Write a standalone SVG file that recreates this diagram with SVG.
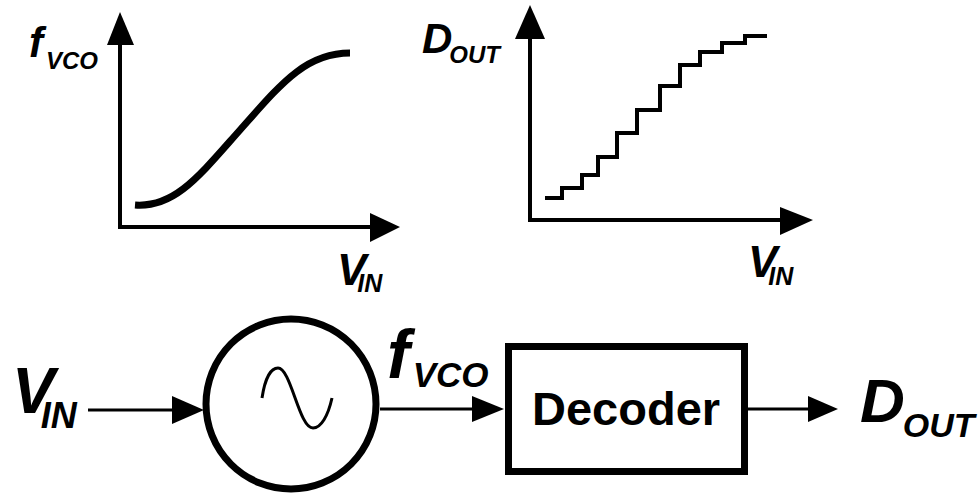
<svg xmlns="http://www.w3.org/2000/svg" width="979" height="495" viewBox="0 0 979 495">
<style>
.lbl{font-family:"Liberation Sans",Arial,sans-serif;font-weight:bold;font-style:italic;fill:#000}
.ax{stroke:#000;stroke-width:4;fill:none}
.ah{fill:#000}
.wire{stroke:#000;stroke-width:3;fill:none}
</style>
<rect width="979" height="495" fill="#fff"/>
<g id="graph-fvco">
  <line class="ax" x1="120" y1="227" x2="120" y2="40"/>
  <line class="ax" x1="118" y1="227" x2="375" y2="227"/>
  <polygon class="ah" points="120,12 107,45 134,45"/>
  <polygon class="ah" points="400,227 370,213 370,242"/>
  <path d="M135,205 C175,208 200,175 240,130 C280,85 305,53 350,53" stroke="#000" stroke-width="7" fill="none"/>
  <text class="lbl" x="29" y="57" font-size="42">f<tspan dx="3" dy="12" font-size="24">VCO</tspan></text>
  <text class="lbl" x="337" y="285" font-size="44">V<tspan dx="-9" dy="7" font-size="25">IN</tspan></text>
</g>
<g id="graph-dout">
  <line class="ax" x1="530" y1="220" x2="530" y2="35"/>
  <line class="ax" x1="528" y1="220" x2="785" y2="220"/>
  <polygon class="ah" points="530,5 515,39 545,39"/>
  <polygon class="ah" points="813,220 780,207 780,235"/>
  <path d="M545,198 H562 V188 H582 V175 H598 V157 H617 V133 H637 V110 H660 V86 H680 V65 H700 V52 H722 V43 H745 V36 H767" stroke="#000" stroke-width="4" fill="none"/>
  <text class="lbl" x="422" y="53" font-size="42">D<tspan dx="-3" dy="10" font-size="24">OUT</tspan></text>
  <text class="lbl" x="748" y="277" font-size="44">V<tspan dx="-9" dy="8" font-size="25">IN</tspan></text>
</g>
<g id="vco">
  <circle cx="291" cy="404" r="85" stroke="#000" stroke-width="7" fill="none"/>
  <path d="M262,398 C265,378 271,368 278,368 C291,368 299,428 313,428 C321,428 328,416 332,398" stroke="#000" stroke-width="3" fill="none"/>
</g>
<g id="decoder">
  <rect x="508.5" y="346.5" width="236" height="125" stroke="#000" stroke-width="7" fill="none"/>
  <text x="532" y="425" font-family="'Liberation Sans',Arial,sans-serif" font-weight="bold" font-size="47">Decoder</text>
</g>
<g id="labels">
  <text class="lbl" x="12" y="413" font-size="64">V<tspan dx="-14" dy="15" font-size="36">IN</tspan></text>
  <text class="lbl" x="387" y="378" font-size="68">f<tspan dx="3" dy="9" font-size="35">VCO</tspan></text>
  <text class="lbl" x="860" y="422" font-size="62">D<tspan dx="-2" dy="15" font-size="34">OUT</tspan></text>
</g>
<g id="connectors">
  <line class="wire" x1="88" y1="410" x2="175" y2="410"/>
  <polygon class="ah" points="204,410 172,396 172,424"/>
  <line class="wire" x1="380" y1="409" x2="475" y2="409"/>
  <polygon class="ah" points="504,409 472,396 472,422"/>
  <line class="wire" x1="748" y1="409" x2="810" y2="409"/>
  <polygon class="ah" points="838,409 808,396 808,422"/>
</g>
</svg>
